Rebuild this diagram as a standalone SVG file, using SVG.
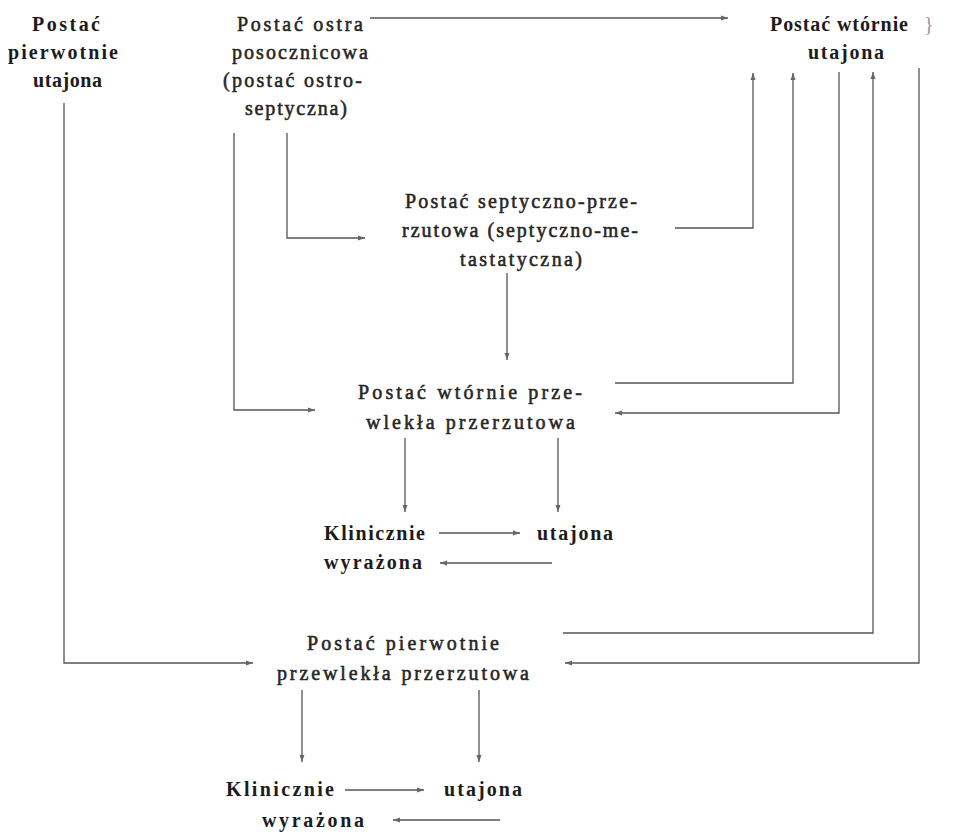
<svg xmlns="http://www.w3.org/2000/svg" width="954" height="833" viewBox="0 0 954 833">
<defs>
<style>
text{font-family:"Liberation Serif","DejaVu Serif",serif;font-size:20px;fill:#222}
.b{font-weight:bold;fill:#1c1c1c}
.r{fill:#262626;stroke:#262626;stroke-width:0.55}
.c line,.c polyline{stroke:#555;stroke-width:1.3;fill:none}
.art{fill:#999}
</style>
<marker id="ah" markerUnits="userSpaceOnUse" markerWidth="8" markerHeight="6" refX="7" refY="3" orient="auto">
<path d="M0,0.5 L7,3 L0,5.5 z" fill="#666"/>
</marker>
</defs>
<rect width="954" height="833" fill="#ffffff"/>

<g id="node-pierwotnie-utajona">
<text class="b" x="32" y="31" textLength="68" lengthAdjust="spacing">Postać</text>
<text class="b" x="8" y="59" textLength="110" lengthAdjust="spacing">pierwotnie</text>
<text class="b" x="33" y="87" textLength="69" lengthAdjust="spacing">utajona</text>
</g>

<g id="node-ostra-posocznicowa">
<text class="r" x="237" y="31" textLength="126" lengthAdjust="spacing">Postać ostra</text>
<text class="r" x="232" y="59" textLength="136" lengthAdjust="spacing">posocznicowa</text>
<text class="r" x="223" y="87" textLength="139" lengthAdjust="spacing">(postać ostro-</text>
<text class="r" x="245" y="115" textLength="102" lengthAdjust="spacing">septyczna)</text>
</g>

<g id="node-wtornie-utajona">
<text class="b" x="770" y="31" textLength="138" lengthAdjust="spacing">Postać wtórnie</text>
<text class="art" x="924" y="31">}</text>
<text class="b" x="808" y="59" textLength="76" lengthAdjust="spacing">utajona</text>
</g>

<g id="node-septyczno-przerzutowa">
<text class="r" x="405" y="208" textLength="232" lengthAdjust="spacing">Postać septyczno-prze-</text>
<text class="r" x="402" y="237" textLength="236" lengthAdjust="spacing">rzutowa (septyczno-me-</text>
<text class="r" x="460" y="266" textLength="122" lengthAdjust="spacing">tastatyczna)</text>
</g>

<g id="node-wtornie-przewlekla">
<text class="r" x="358" y="399" textLength="224" lengthAdjust="spacing">Postać wtórnie prze-</text>
<text class="r" x="366" y="429" textLength="209" lengthAdjust="spacing">wlekła przerzutowa</text>
</g>

<g id="node-upper-klinicznie">
<text class="b" x="324" y="540" textLength="101" lengthAdjust="spacing">Klinicznie</text>
<text class="b" x="324" y="569" textLength="98" lengthAdjust="spacing">wyrażona</text>
</g>
<g id="node-upper-utajona">
<text class="b" x="537" y="540" textLength="76" lengthAdjust="spacing">utajona</text>
</g>

<g id="node-pierwotnie-przewlekla">
<text class="r" x="307" y="650" textLength="192" lengthAdjust="spacing">Postać pierwotnie</text>
<text class="r" x="277" y="680" textLength="252" lengthAdjust="spacing">przewlekła przerzutowa</text>
</g>

<g id="node-lower-klinicznie">
<text class="b" x="226" y="796" textLength="108" lengthAdjust="spacing">Klinicznie</text>
<text class="b" x="262" y="827" textLength="102" lengthAdjust="spacing">wyrażona</text>
</g>
<g id="node-lower-utajona">
<text class="b" x="444" y="796" textLength="78" lengthAdjust="spacing">utajona</text>
</g>

<g id="connectors" class="c">
<line x1="370" y1="18" x2="728" y2="18" marker-end="url(#ah)"/>
<polyline points="64,103 64,663 253,663" marker-end="url(#ah)"/>
<polyline points="234,133 234,410 315,410" marker-end="url(#ah)"/>
<polyline points="287,133 287,238 365,238" marker-end="url(#ah)"/>
<polyline points="675,228 753,228 753,73" marker-end="url(#ah)"/>
<polyline points="615,383 793,383 793,73" marker-end="url(#ah)"/>
<polyline points="839,72 839,413 615,413" marker-end="url(#ah)"/>
<polyline points="563,633 873,633 873,72" marker-end="url(#ah)"/>
<polyline points="919,68 919,663 565,663" marker-end="url(#ah)"/>
<line x1="507" y1="273" x2="507" y2="360" marker-end="url(#ah)"/>
<line x1="405" y1="438" x2="405" y2="512" marker-end="url(#ah)"/>
<line x1="558" y1="438" x2="558" y2="512" marker-end="url(#ah)"/>
<line x1="439" y1="533" x2="520" y2="533" marker-end="url(#ah)"/>
<line x1="552" y1="563" x2="440" y2="563" marker-end="url(#ah)"/>
<line x1="302" y1="690" x2="302" y2="762" marker-end="url(#ah)"/>
<line x1="479" y1="690" x2="479" y2="762" marker-end="url(#ah)"/>
<line x1="345" y1="790" x2="424" y2="790" marker-end="url(#ah)"/>
<line x1="500" y1="820" x2="393" y2="820" marker-end="url(#ah)"/>
</g>
</svg>
